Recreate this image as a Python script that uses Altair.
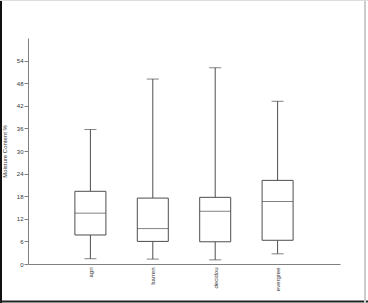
import altair as alt
import pandas as pd

categories = ["agri", "barren", "decidou", "evergree"]
whisker_low = [1.4, 1.3, 1.1, 2.7]
q1 = [7.7, 6.0, 5.9, 6.3]
median = [13.5, 9.4, 14.0, 16.6]
q3 = [19.3, 17.5, 17.7, 22.2]
whisker_high = [35.7, 49.1, 52.1, 43.2]
y_ticks = [0, 6, 12, 18, 24, 30, 36, 42, 48, 54]

df = pd.DataFrame({
    "cat": categories, "lo": whisker_low, "q1": q1, "med": median,
    "q3": q3, "hi": whisker_high,
})

LINE = "#4d4d4d"
FONT = "Liberation Sans"

x = alt.X("cat:N", sort=categories, title=None,
          scale=alt.Scale(type="point", padding=1),
          axis=alt.Axis(labelAngle=270, ticks=False, labelFontSize=6,
                        labelFont=FONT, labelColor="#333333", domainColor="#808080",
                        labelPadding=3))
yscale = alt.Scale(domain=[0, 60], nice=False)
yaxis = alt.Axis(values=y_ticks, grid=False, labelFontSize=6, labelFont=FONT,
                 labelColor="#333333", titleFontSize=6, titleFont=FONT,
                 titleFontWeight="normal", titleColor="#333333",
                 domainColor="#808080", tickColor="#808080", tickSize=4,
                 labelPadding=1, titlePadding=9, labelOverlap=False)
TITLE = "Moisture Content %"


def Y(field):
    return alt.Y(field, scale=yscale, axis=yaxis, title=TITLE)


base = alt.Chart(df)
whisk_lo = base.mark_rule(color=LINE, strokeWidth=1).encode(x=x, y=Y("lo:Q"), y2="q1:Q")
whisk_hi = base.mark_rule(color=LINE, strokeWidth=1).encode(x=x, y=Y("q3:Q"), y2="hi:Q")
box = base.mark_bar(size=31, fill="white", stroke=LINE, strokeWidth=1).encode(
    x=x, y=Y("q1:Q"), y2="q3:Q")
med = base.mark_tick(size=31, color=LINE, thickness=1, orient="horizontal").encode(
    x=x, y=Y("med:Q"))
cap_lo = base.mark_tick(size=12, color=LINE, thickness=1, orient="horizontal").encode(
    x=x, y=Y("lo:Q"))
cap_hi = base.mark_tick(size=12, color=LINE, thickness=1, orient="horizontal").encode(
    x=x, y=Y("hi:Q"))

# outer image frame
frame_left = alt.Chart().mark_rule(color="#111111", strokeWidth=2).encode(
    x=alt.value(-27), y=alt.value(-38), y2=alt.value(265))
frame_bottom = alt.Chart().mark_rule(color="#222222", strokeWidth=2).encode(
    x=alt.value(-28), x2=alt.value(340), y=alt.value(263.5))
frame_right = alt.Chart().mark_rule(color="#cccccc", strokeWidth=2).encode(
    x=alt.value(337), y=alt.value(-38), y2=alt.value(265))
frame_top = alt.Chart().mark_rule(color="#dddddd", strokeWidth=1).encode(
    x=alt.value(-28), x2=alt.value(340), y=alt.value(-37.5))

chart = alt.layer(whisk_lo, whisk_hi, box, med, cap_lo, cap_hi,
                  frame_left, frame_bottom, frame_right, frame_top).properties(
    width=312, height=226,
    autosize=alt.AutoSizeParams(type="none"),
    padding={"left": 28, "top": 38, "right": 28, "bottom": 39},
).configure(background="white").configure_view(stroke=None)

chart.save("out.html", embed_options={"renderer": "svg", "actions": False})
